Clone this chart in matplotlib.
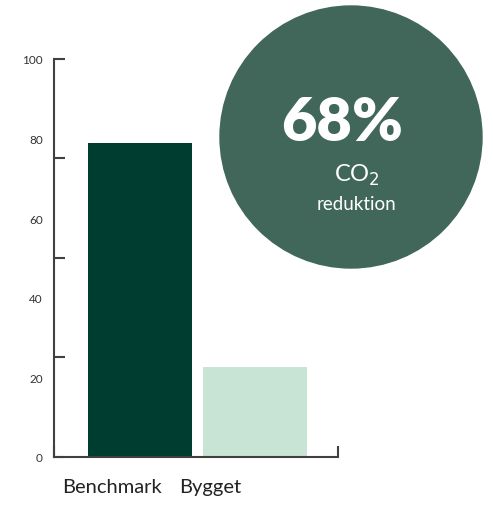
import matplotlib.pyplot as plt
from matplotlib.patches import Circle

plt.rcParams['font.family'] = ['Lato', 'DejaVu Sans']

# data
categories = ['Benchmark', 'Bygget']
values = [79, 22.5]
bar_colors = ['#003D31', '#C8E4D4']
ytick_labels = [0, 20, 40, 60, 80, 100]
ytick_marks = [0, 25, 50, 75, 100]
reduction = '68%'

fig = plt.figure(figsize=(4.93, 5.06), dpi=100)
ax = fig.add_axes([0.1095, 0.0949, 0.5761, 0.7866])

x = range(len(categories))
ax.bar(x, values, width=0.908, color=bar_colors, zorder=2)

ax.set_xlim(-0.751, 1.729)
ax.set_ylim(0, 100)

# tick marks every 25, labels every 20 (as in the original)
ax.yaxis.remove_overlapping_locs = False
ax.set_yticks(ytick_marks)
ax.set_yticklabels([])
ax.set_yticks(ytick_labels, minor=True)
ax.set_yticklabels([str(v) for v in ytick_labels], minor=True, fontsize=8.5, color='#333333')
ax.tick_params(axis='y', which='major', direction='in', length=8, width=1.5, color='#404040')
ax.tick_params(axis='y', which='minor', length=0, pad=8)

ax.set_xticks(ax.get_xlim())
ax.set_xticklabels([])
ax.tick_params(axis='x', direction='in', length=8, width=1.5, color='#404040')

for s in ['top', 'right']:
    ax.spines[s].set_visible(False)
for s in ['left', 'bottom']:
    ax.spines[s].set_linewidth(1.5)
    ax.spines[s].set_color('#404040')

# category labels under the axis
ax.text(0.204, -0.075, categories[0], transform=ax.transAxes, ha='center', va='center',
        fontsize=14.5, color='#222222')
ax.text(0.549, -0.075, categories[1], transform=ax.transAxes, ha='center', va='center',
        fontsize=14.5, color='#222222')

# overlay circle in pixel coordinates
ov = fig.add_axes([0, 0, 1, 1])
ov.set_xlim(0, 493)
ov.set_ylim(506, 0)
ov.axis('off')
ov.add_patch(Circle((351, 138), 131, color='#41665A'))
ov.text(342, 123, reduction, ha='center', va='center', fontsize=44, fontweight='heavy', color='white')
ov.text(357, 175, 'CO$_2$', ha='center', va='center', fontsize=17, color='white')
ov.text(357, 204, 'reduktion', ha='center', va='center', fontsize=13.5, color='white')

fig.savefig('out.png', dpi=100)
